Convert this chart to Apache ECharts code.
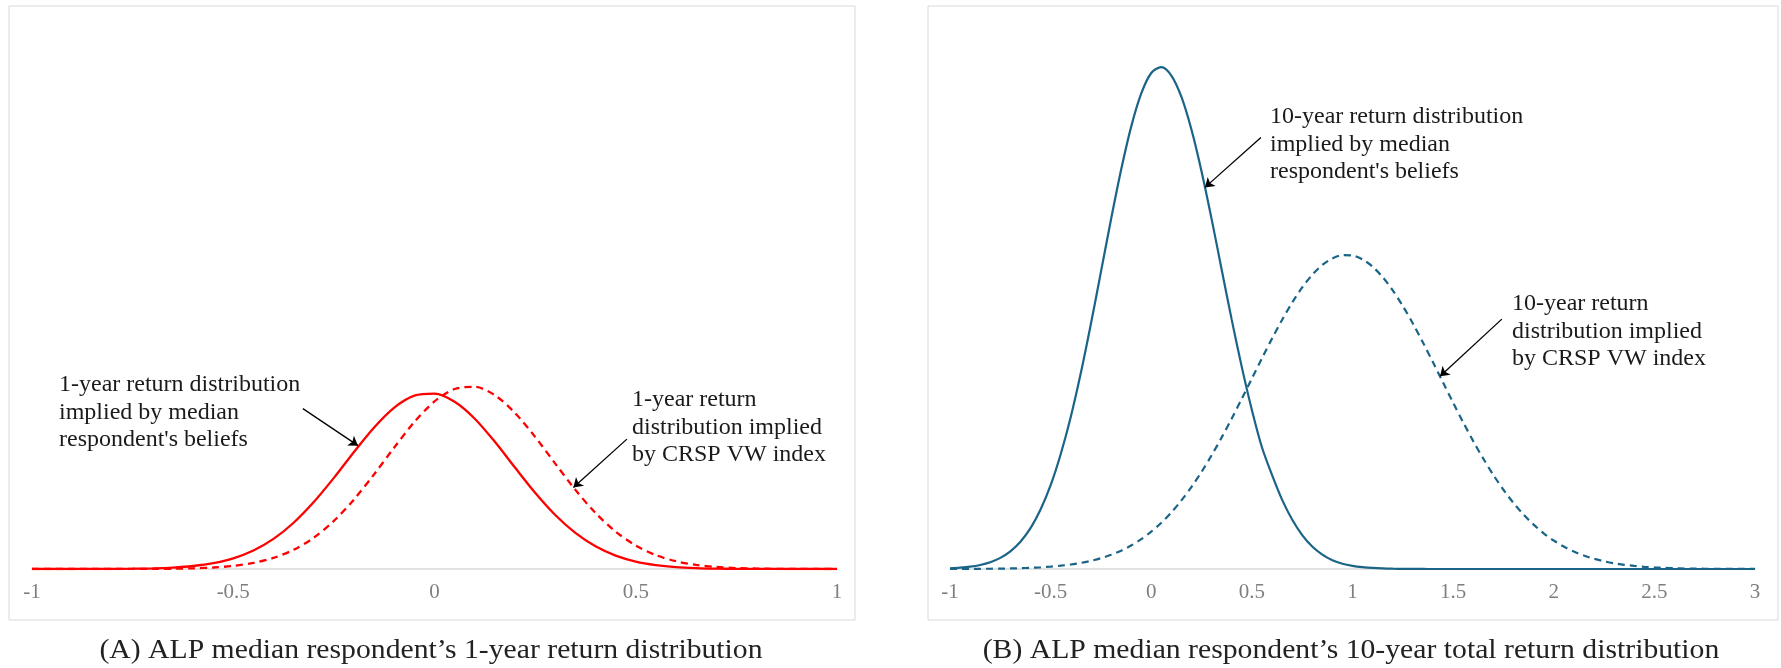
<!DOCTYPE html>
<html>
<head>
<meta charset="utf-8">
<script src="https://cdn.jsdelivr.net/npm/echarts@6/dist/echarts.min.js"></script>
<style>
  html, body { margin: 0; padding: 0; background: #fff; }
  #main { width: 1781px; height: 668px; }
</style>
</head>
<body>
<div id="main"></div>
<script>
// panel A: 1-year return densities (x = return)
const xA = [-1, -0.95, -0.9, -0.85, -0.8, -0.75, -0.7, -0.65, -0.6, -0.55,
  -0.5, -0.45, -0.4, -0.35, -0.3, -0.25, -0.2, -0.15, -0.1, -0.05,
  0, 0.05, 0.1, 0.15, 0.2, 0.25, 0.3, 0.35, 0.4, 0.45,
  0.5, 0.55, 0.6, 0.65, 0.7, 0.75, 0.8, 0.85, 0.9, 0.95, 1];
const beliefsA = [0, 0, 0.0002, 0.0005, 0.0012, 0.0029, 0.0068, 0.0149, 0.031, 0.060,
  0.110, 0.191, 0.310, 0.476, 0.689, 0.938, 1.205, 1.457, 1.661, 1.784,
  1.805, 1.721, 1.547, 1.309, 1.044, 0.785, 0.556, 0.371, 0.233, 0.138,
  0.077, 0.041, 0.020, 0.0094, 0.0041, 0.0017, 0.0007, 0.0003, 0.0001, 0, 0];
const crspA = [0, 0, 0, 0.0001, 0.0002, 0.0005, 0.0012, 0.0030, 0.0071, 0.0155,
  0.032, 0.062, 0.114, 0.198, 0.322, 0.495, 0.716, 0.975, 1.251, 1.513,
  1.725, 1.853, 1.875, 1.788, 1.606, 1.360, 1.085, 0.815, 0.577, 0.385,
  0.242, 0.143, 0.080, 0.042, 0.021, 0.0097, 0.0043, 0.0018, 0.0007, 0.0003, 0.0001];

// panel B: 10-year total return densities
const xB = [-1, -0.95, -0.9, -0.85, -0.8, -0.75, -0.7, -0.65, -0.6, -0.55,
  -0.5, -0.45, -0.4, -0.35, -0.3, -0.25, -0.2, -0.15, -0.1, -0.05,
  0, 0.05, 0.1, 0.15, 0.2, 0.25, 0.3, 0.35, 0.4, 0.45,
  0.5, 0.55, 0.6, 0.65, 0.7, 0.75, 0.8, 0.85, 0.9, 0.95,
  1, 1.05, 1.1, 1.15, 1.2, 1.25, 1.3, 1.35, 1.4, 1.45,
  1.5, 1.55, 1.6, 1.65, 1.7, 1.75, 1.8, 1.85, 1.9, 1.95,
  2, 2.05, 2.1, 2.15, 2.2, 2.25, 2.3, 2.35, 2.4, 2.45,
  2.5, 2.55, 2.6, 2.65, 2.7, 2.75, 2.8, 2.85, 2.9, 2.95, 3];
const beliefsB = [0.0019, 0.0035, 0.0062, 0.0109, 0.0184, 0.0302, 0.0479, 0.0739, 0.1107, 0.161,
  0.227, 0.311, 0.412, 0.531, 0.664, 0.805, 0.947, 1.081, 1.198, 1.288,
  1.344, 1.360, 1.337, 1.279, 1.190, 1.077, 0.948, 0.811, 0.675, 0.547,
  0.431, 0.330, 0.255, 0.188, 0.134, 0.092, 0.061, 0.039, 0.024, 0.0144,
  0.0086, 0.0050, 0.0028, 0.0015, 0.0008, 0.0004, 0.0002, 0.0001, 0, 0,
  0, 0, 0, 0, 0, 0, 0, 0, 0, 0,
  0, 0, 0, 0, 0, 0, 0, 0, 0, 0,
  0, 0, 0, 0, 0, 0, 0, 0, 0, 0, 0];
const crspB = [0.0001, 0.0002, 0.0003, 0.0005, 0.0007, 0.0010, 0.0015, 0.0022, 0.0032, 0.0046,
  0.0064, 0.0089, 0.0122, 0.0165, 0.0221, 0.0293, 0.0384, 0.0497, 0.0637, 0.0808,
  0.1011, 0.1253, 0.1534, 0.1858, 0.2224, 0.2633, 0.3081, 0.3566, 0.4080, 0.4615,
  0.5162, 0.5709, 0.6242, 0.6749, 0.7216, 0.7628, 0.7971, 0.8237, 0.8416, 0.8502,
  0.8493, 0.8388, 0.8191, 0.7908, 0.7550, 0.7126, 0.6651, 0.6137, 0.5600, 0.5051,
  0.4506, 0.3973, 0.3465, 0.2989, 0.2547, 0.2147, 0.1789, 0.1475, 0.1202, 0.0968,
  0.0772, 0.0608, 0.0473, 0.0364, 0.0277, 0.0209, 0.0155, 0.0114, 0.0083, 0.0060,
  0.0043, 0.0030, 0.0021, 0.0014, 0.0010, 0.0007, 0.0004, 0.0003, 0.0002, 0.0001, 0.0001];

const ticksA = [-1, -0.5, 0, 0.5, 1];
const ticksB = [-1, -0.5, 0, 0.5, 1, 1.5, 2, 2.5, 3];

const serif = '"Liberation Serif", "DejaVu Serif", serif';
const red = '#FF0000';
const blue = '#1A6487';

function pairs(xs, ys) {
  return xs.map((x, i) => [x, ys[i]]);
}

function xAxisOf(idx, ticks) {
  return {
    type: 'value', gridIndex: idx,
    min: ticks[0], max: ticks[ticks.length - 1], interval: 0.5,
    axisLine: { lineStyle: { color: '#d9d9d9', width: 1.5 } },
    axisTick: { show: false },
    splitLine: { show: false },
    axisLabel: { color: '#7f7f7f', fontFamily: serif, fontSize: 21, margin: 13 }
  };
}

function arrow(from, to) {
  return [{ coord: from }, { coord: to }];
}

const arrowStyle = {
  silent: true,
  symbol: ['none', 'arrow'],
  symbolSize: 9,
  label: { show: false },
  lineStyle: { color: '#000', width: 1.3, type: 'solid' },
  emphasis: { disabled: true }
};

function note(x, y, text) {
  return {
    type: 'text', x: x, y: y, silent: true,
    style: { text: text, font: '24px ' + serif, fill: '#1a1a1a', lineHeight: 27.5, align: 'left', verticalAlign: 'top' }
  };
}

function caption(cx, text) {
  return {
    type: 'text', x: cx, y: 651, scaleX: 1.1, silent: true,
    style: { text: text, font: '27px ' + serif, fill: '#222', align: 'center', verticalAlign: 'middle' }
  };
}

const chart = echarts.init(document.getElementById('main'));
chart.setOption({
  animation: false,
  backgroundColor: '#fff',
  grid: [
    { left: 32, top: 25, width: 805, height: 544 },
    { left: 950, top: 25, width: 805, height: 544 }
  ],
  xAxis: [xAxisOf(0, ticksA), xAxisOf(1, ticksB)],
  yAxis: [
    { type: 'value', gridIndex: 0, min: 0, max: 5.6, show: false },
    { type: 'value', gridIndex: 1, min: 0, max: 1.474, show: false }
  ],
  series: [
    {
      name: 'beliefs A', type: 'line', xAxisIndex: 0, yAxisIndex: 0,
      data: pairs(xA, beliefsA), showSymbol: false, smooth: 0.3,
      lineStyle: { color: red, width: 2.3 },
      markLine: Object.assign({ data: [arrow([-0.327, 1.651], [-0.19, 1.27])] }, arrowStyle)
    },
    {
      name: 'CRSP A', type: 'line', xAxisIndex: 0, yAxisIndex: 0,
      data: pairs(xA, crspA), showSymbol: false, smooth: 0.3,
      lineStyle: { color: red, width: 2.3, type: [7, 5] },
      markLine: Object.assign({ data: [arrow([0.478, 1.337], [0.345, 0.84])] }, arrowStyle)
    },
    {
      name: 'beliefs B', type: 'line', xAxisIndex: 1, yAxisIndex: 1,
      data: pairs(xB, beliefsB), showSymbol: false, smooth: 0.3,
      lineStyle: { color: blue, width: 2.2 },
      markLine: Object.assign({ data: [arrow([0.545, 1.169], [0.267, 1.034])] }, arrowStyle)
    },
    {
      name: 'CRSP B', type: 'line', xAxisIndex: 1, yAxisIndex: 1,
      data: pairs(xB, crspB), showSymbol: false, smooth: 0.3,
      lineStyle: { color: blue, width: 2.2, type: [7, 5] },
      markLine: Object.assign({ data: [arrow([1.742, 0.677], [1.435, 0.522])] }, arrowStyle)
    }
  ],
  graphic: [
    // panel frames
    { type: 'rect', silent: true, shape: { x: 9, y: 6, width: 846, height: 614 }, style: { fill: 'none', stroke: '#d9d9d9', lineWidth: 1 } },
    { type: 'rect', silent: true, shape: { x: 928, y: 6, width: 850, height: 614 }, style: { fill: 'none', stroke: '#d9d9d9', lineWidth: 1 } },
    note(59, 371, "1-year return distribution\nimplied by median\nrespondent's beliefs"),
    note(632, 386, '1-year return\ndistribution implied\nby CRSP VW index'),
    note(1270, 103, "10-year return distribution\nimplied by median\nrespondent's beliefs"),
    note(1512, 290, '10-year return\ndistribution implied\nby CRSP VW index'),
    caption(431, '(A) ALP median respondent\u2019s 1-year return distribution'),
    caption(1351, '(B) ALP median respondent\u2019s 10-year total return distribution')
  ]
});
window.addEventListener('resize', chart.resize);
</script>
</body>
</html>
